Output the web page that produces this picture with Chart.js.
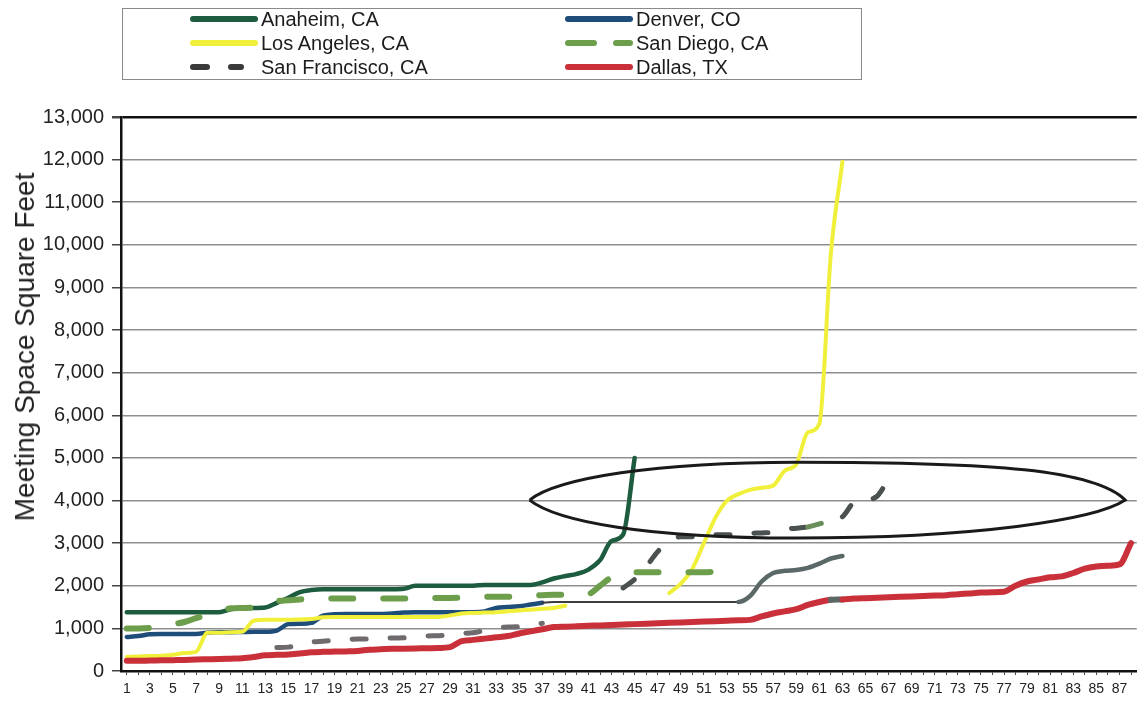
<!DOCTYPE html>
<html>
<head>
<meta charset="utf-8">
<title>Meeting Space Square Feet</title>
<script src="https://cdn.jsdelivr.net/npm/chart.js@4.4.1/dist/chart.umd.min.js"></script>
<style>
  html, body { margin: 0; padding: 0; background: #fff; }
  #wrap { position: relative; width: 1137px; height: 703px; overflow: hidden; background: #fff; }
  #grafica { position: absolute; left: 0; top: 0; }
  #leyenda {
    position: absolute; left: 122px; top: 8px; width: 738px; height: 70px;
    border: 1.5px solid #8a8a8a; background: #fff;
  }
  .item {
    position: absolute; height: 24px; display: flex; align-items: center;
    font: 20px "Liberation Sans", Arial, sans-serif; color: #1c1c1c; white-space: nowrap;
  }
  .item svg { display: block; }
  #tituloY {
    position: absolute; left: 25px; top: 347px;
    transform: translate(-50%, -50%) rotate(-90deg);
    font: 28px "Liberation Sans", Arial, sans-serif; color: #222; white-space: nowrap;
  }
</style>
</head>
<body>
<div id="wrap">
  <canvas id="grafica" width="1137" height="703"></canvas>
  <div id="leyenda"></div>
  <div id="tituloY">Meeting Space Square Feet</div>
</div>
<script>
// ======================= DATOS =======================
const categorias = Array.from({ length: 88 }, (_, i) => String(i + 1));

const anaheim = [
  1380, 1380, 1380, 1380, 1380, 1380, 1380, 1380, 1380, 1450,
  1480, 1480, 1490, 1600, 1720, 1850, 1900, 1920, 1920, 1920,
  1920, 1920, 1920, 1920, 1930, 2000, 2000, 2000, 2000, 2000,
  2000, 2020, 2020, 2020, 2020, 2020, 2080, 2170, 2230, 2280,
  2380, 2600, 3050, 3200, 5000
];

const denver = [
  800, 820, 860, 870, 870, 870, 870, 900, 910, 910,
  915, 920, 920, 950, 1100, 1110, 1130, 1300, 1330, 1340,
  1340, 1340, 1340, 1350, 1370, 1380, 1380, 1380, 1380, 1380,
  1380, 1400, 1480, 1500, 1520, 1560, 1600, 1620, 1620, 1620,
  1620, 1620, 1620, 1620, 1620, 1620, 1620, 1620, 1620, 1620,
  1620, 1620, 1620, 1620, 1760, 2100, 2300, 2350, 2370, 2420,
  2520, 2640, 2700
];

const losAngeles = [
  330, 340, 350, 360, 380, 420, 450, 900, 900, 910,
  920, 1180, 1200, 1200, 1200, 1210, 1220, 1260, 1270, 1270,
  1270, 1270, 1270, 1270, 1270, 1270, 1270, 1270, 1300, 1350,
  1360, 1370, 1380, 1400, 1420, 1440, 1460, 1480, 1530, null,
  null, null, null, null, null, null, null, 1830, 2050, 2400,
  3000, 3600, 4000, 4150, 4250, 4300, 4350, 4700, 4850, 5600,
  5800, 9800, 11950
];

const sanDiego = [
  1000, 1000, 1010, 1050, 1100, 1150, 1240, 1320, 1400, 1470,
  1480, 1490, 1560, 1640, 1660, 1680, 1690, 1700, 1700, 1700,
  1700, 1700, 1700, 1700, 1700, 1715, 1715, 1715, 1715, 1720,
  1740, 1740, 1740, 1740, 1750, 1760, 1780, 1790, 1790, 1770,
  1800, 2000, 2200, 2300, 2320, 2320, 2320, 2320, 2320, 2320,
  2320, 2330
];

const sanFrancisco = [
  null, null, null, null, null, null, null, null, null, null,
  null, null, null, 550, 560, 620, 680, 700, 720, 740,
  750, 750, 760, 775, 780, 800, 820, 830, 850, 880,
  900, 950, 1020, 1030, 1040, 1080, 1120, null, null, null,
  null, null, null, 1950, 2150, 2450, 2800, 3050, 3150, 3150,
  3200, 3200, 3200, 3200, 3230, 3240, 3260, 3330, 3350, 3380,
  3450, 3550, 3620, 3950, 4000, 4100, 4450, 4500
];

const dallas = [
  240, 240, 245, 250, 255, 260, 270, 275, 280, 290,
  300, 330, 370, 380, 390, 410, 440, 450, 455, 460,
  470, 500, 510, 520, 525, 530, 535, 540, 560, 700,
  730, 760, 790, 820, 880, 930, 980, 1030, 1040, 1050,
  1060, 1070, 1080, 1090, 1100, 1110, 1120, 1130, 1140, 1150,
  1160, 1170, 1180, 1190, 1200, 1280, 1350, 1400, 1450, 1550,
  1620, 1670, 1680, 1700, 1710, 1720, 1730, 1740, 1750, 1760,
  1770, 1780, 1800, 1820, 1840, 1850, 1860, 2000, 2100, 2150,
  2200, 2220, 2300, 2400, 2450, 2470, 2500, 3000
];

// marcas del eje Y
const ticksY = [0, 1000, 2000, 3000, 4000, 5000, 6000, 7000, 8000, 9000, 10000, 11000, 12000, 13000];

// elipse dibujada a mano: [categoria, valor] (inicio + curvas bezier)
const elipse = [
  [35.9, 4010],
  [38.3, 4530], [46.9, 4900], [59.0, 4900],
  [76.3, 4900], [84.9, 4720], [87.5, 4010],
  [84.9, 3545], [74.6, 3120], [59.0, 3120],
  [46.1, 3120], [38.3, 3500], [35.9, 4010]
];

// ======================= PLUGIN ELIPSE =======================
const pluginElipse = {
  id: 'elipse',
  afterDatasetsDraw(chart) {
    const ctx = chart.ctx;
    const x = chart.scales.x, y = chart.scales.y;
    const p = elipse.map(([c, v]) => [x.getPixelForValue(c - 1), y.getPixelForValue(v)]);
    ctx.save();
    ctx.beginPath();
    ctx.moveTo(p[0][0], p[0][1]);
    for (let i = 1; i + 2 < p.length; i += 3) {
      ctx.bezierCurveTo(p[i][0], p[i][1], p[i + 1][0], p[i + 1][1], p[i + 2][0], p[i + 2][1]);
    }
    ctx.lineWidth = 3;
    ctx.strokeStyle = '#1a1a1a';
    ctx.stroke();
    ctx.restore();
  }
};

const fuente = '"Liberation Sans", Arial, sans-serif';

const ctx = document.getElementById('grafica').getContext('2d');
const chart = new Chart(ctx, {
  type: 'line',
  data: {
    labels: categorias,
    datasets: [
      {
        label: 'Anaheim, CA', data: anaheim,
        borderColor: '#1d5c3f', borderWidth: 4.5, order: 5,
        muestra: { largo: 70, dash: '' }
      },
      {
        label: 'Denver, CO', data: denver,
        borderColor: '#1f4d7a', borderWidth: 4.5, order: 4,
        muestra: { largo: 70, dash: '' },
        segment: {
          borderColor: c => c.p0DataIndex >= 53 ? '#5b6868' : (c.p0DataIndex >= 36 ? '#3c3c3c' : undefined),
          borderWidth: c => (c.p0DataIndex >= 36 && c.p0DataIndex < 53) ? 2 : undefined
        }
      },
      {
        label: 'Los Angeles, CA', data: losAngeles,
        borderColor: '#f0f03a', borderWidth: 4, order: 3,
        muestra: { largo: 70, dash: '' }
      },
      {
        label: 'San Diego, CA', data: sanDiego,
        borderColor: '#6c9e4c', borderWidth: 6, borderDash: [22, 30], order: 2,
        muestra: { largo: 70, dash: '26 22' }
      },
      {
        label: 'San Francisco, CA', data: sanFrancisco,
        borderColor: '#3a3a3a', borderWidth: 5, borderDash: [14, 24], order: 1,
        muestra: { largo: 56, dash: '14 24' },
        segment: {
          borderColor: c => c.p0DataIndex < 43 ? '#6e6a6e' : (c.p0DataIndex >= 59 && c.p0DataIndex < 62 ? '#6a8f5a' : '#4b5050')
        }
      },
      {
        label: 'Dallas, TX', data: dallas,
        borderColor: '#c9303a', borderWidth: 6, order: 0,
        muestra: { largo: 70, dash: '' },
        segment: {
          borderColor: c => c.p0DataIndex === 61 ? '#5b6868' : undefined
        }
      }
    ]
  },
  options: {
    responsive: false,
    devicePixelRatio: 1,
    animation: false,
    spanGaps: false,
    layout: { padding: { top: 117, right: -5, bottom: 0, left: 0 } },
    elements: {
      point: { radius: 0, hoverRadius: 0 },
      line: { cubicInterpolationMode: 'monotone', borderCapStyle: 'round', borderJoinStyle: 'round', fill: false }
    },
    plugins: {
      legend: { display: false },
      tooltip: { enabled: false }
    },
    scales: {
      x: {
        offset: true,
        afterFit: s => { s.height = 32; },
        border: { color: '#111', width: 2.5 },
        grid: { drawOnChartArea: false, drawTicks: true, tickLength: 4, tickColor: '#444', lineWidth: 1 },
        ticks: {
          autoSkip: false, maxRotation: 0, minRotation: 0, padding: 6,
          color: '#222', font: { family: fuente, size: 14 },
          callback: (v, i) => i % 2 === 0 ? categorias[i] : ''
        }
      },
      y: {
        min: 0, max: 13000,
        afterFit: s => { s.width = 121; },
        afterBuildTicks: s => { s.ticks = ticksY.map(v => ({ value: v })); },
        border: { color: '#111', width: 2.5 },
        grid: {
          color: c => c.tick.value === 13000 ? '#111' : '#8e8e8e',
          lineWidth: c => c.tick.value === 13000 ? 2.5 : 1.5,
          tickLength: 9, tickColor: '#444'
        },
        ticks: {
          padding: 8, color: '#222', font: { family: fuente, size: 20 },
          callback: v => v.toLocaleString('en-US')
        }
      }
    }
  },
  plugins: [pluginElipse]
});

// ======================= LEYENDA =======================
function crearLeyenda(chart) {
  const cont = document.getElementById('leyenda');
  cont.innerHTML = '';
  chart.data.datasets.forEach((ds, i) => {
    const col = i % 2;
    const fila = Math.floor(i / 2);
    const item = document.createElement('div');
    item.className = 'item';
    item.style.left = (66 + col * 375) + 'px';
    item.style.top = (-2 + fila * 24) + 'px';

    const ns = 'http://www.w3.org/2000/svg';
    const svg = document.createElementNS(ns, 'svg');
    svg.setAttribute('width', 72);
    svg.setAttribute('height', 10);
    const linea = document.createElementNS(ns, 'line');
    linea.setAttribute('x1', 4);
    linea.setAttribute('x2', ds.muestra.largo - 4);
    linea.setAttribute('y1', 5);
    linea.setAttribute('y2', 5);
    linea.setAttribute('stroke', ds.borderColor);
    linea.setAttribute('stroke-width', 6);
    linea.setAttribute('stroke-linecap', 'round');
    if (ds.muestra.dash) linea.setAttribute('stroke-dasharray', ds.muestra.dash);
    svg.appendChild(linea);

    const texto = document.createElement('span');
    texto.textContent = ds.label;

    item.appendChild(svg);
    item.appendChild(texto);
    cont.appendChild(item);
  });
}

crearLeyenda(chart);
</script>
</body>
</html>
